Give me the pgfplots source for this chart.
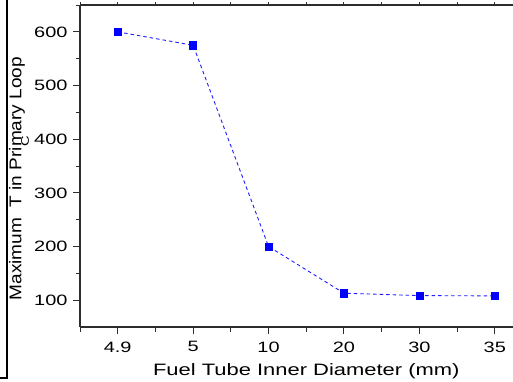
\documentclass[border=0pt]{standalone}
\usepackage{pgfplots}
\pgfplotsset{compat=1.18}
\usepackage{fontspec}
\setmainfont{Liberation Sans}[FakeStretch=1.33]
\newfontfamily\ylabfont{Liberation Sans}[FakeStretch=1.12]
\definecolor{lineblue}{RGB}{30,30,255}
\definecolor{axgray}{RGB}{45,45,45}
\pgfplotsset{common/.style={
  at={(80pt,54pt)}, anchor=south west,
  scale only axis, width=433pt, height=322pt,
  xmin=-0.5, xmax=5.2414, ymin=50, ymax=650,
  xtick={0,1,2,3,4,5},
  minor xtick={-0.5,0.5,1.5,2.5,3.5,4.5},
  tick align=outside,
  every tick/.style={axgray, line width=1pt},
  axis line style={axgray, line width=1.2pt, -},
  clip=false,
}}
\begin{document}
\begin{tikzpicture}[x=1pt,y=1pt]
\begin{axis}[common,
  axis x line*=top, axis y line=none,
  xticklabels={}, ytick=\empty,
  major tick length=3pt, minor tick length=3pt,
]
\end{axis}
\begin{axis}[common,
  axis x line*=bottom, axis y line*=left,
  xticklabels={4.9,5,10,20,30,35},
  ytick={100,200,300,400,500,600}, minor ytick={150,250,350,450,550,650},
  major tick length=7pt, minor tick length=4.5pt,
  /pgf/number format/assume math mode=true,
  tick label style={font=\fontsize{15}{18}\selectfont, text=black},
  xticklabel style={anchor=north, yshift=-4pt},
  yticklabel style={anchor=east, xshift=-2pt},
  xlabel={Fuel Tube Inner Diameter (mm)},
  xlabel style={font=\fontsize{16.5}{19}\selectfont, at={(axis cs:2.5,50)}, anchor=base, yshift=-48pt},
  ylabel={Maximum\ \ T in Primary Loop},
  ylabel style={font=\ylabfont\fontsize{17}{19}\selectfont, at={(axis description cs:-0.1455,0.461)}, anchor=center, rotate=0},
]
\addplot[lineblue, line width=0.9pt, dash pattern=on 3.5pt off 3pt,
  mark=square*, mark size=3.6pt, mark options={solid, fill=blue, draw=blue, line width=0.5pt}]
  coordinates {(0,600) (1,575) (2,200) (3,113) (4,108.5) (5,108)};
\end{axis}
\node[rotate=90, font=\fontsize{11}{11}\selectfont, inner sep=0pt] at (25,240) {C};
\draw[line width=2pt] (7,381) -- (7,3) -- (0,3);
\pgfresetboundingbox
\path[use as bounding box] (0,0) rectangle (513,381);
\end{tikzpicture}
\end{document}
